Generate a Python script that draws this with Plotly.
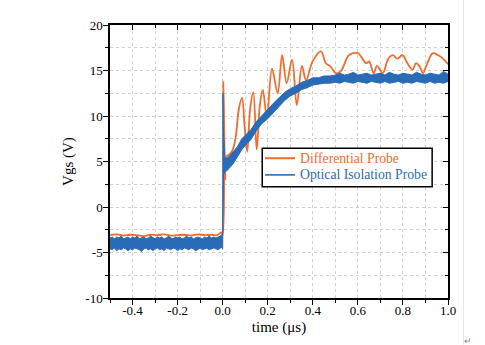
import plotly.graph_objects as go

# ---- Differential probe (orange) waveform, time in µs, Vgs in V ----
t_diff = [-0.5, -0.47, -0.44, -0.41, -0.38, -0.35, -0.32, -0.29, -0.26, -0.23,
          -0.20, -0.17, -0.14, -0.11, -0.08, -0.05, -0.025, -0.006, 0.0, 0.003,
          0.007, 0.011, 0.016, 0.025, 0.035, 0.045, 0.058, 0.072, 0.086, 0.097,
          0.109, 0.122, 0.136, 0.151, 0.165, 0.178, 0.196, 0.219, 0.244, 0.264,
          0.284, 0.308, 0.329, 0.352, 0.370, 0.399, 0.436, 0.458, 0.480, 0.502,
          0.524, 0.561, 0.600, 0.615, 0.636, 0.650, 0.670, 0.685, 0.710, 0.735,
          0.755, 0.775, 0.798, 0.820, 0.843, 0.858, 0.875, 0.889, 0.905, 0.933,
          0.955, 0.978, 1.0]
v_diff = [-3.1, -3.0, -3.15, -3.05, -3.1, -3.2, -3.05, -3.1, -3.0, -3.15,
          -3.1, -3.05, -3.15, -3.0, -3.1, -3.05, -3.1, -2.8, -3.0, 13.8,
          8.5, 3.0, 5.5, 5.7, 5.9, 6.3, 7.7, 10.8, 12.0, 9.0,
          6.1, 10.8, 12.6, 6.3, 11.2, 12.9, 9.9, 15.2, 12.5, 16.7,
          13.6, 16.2, 11.2, 15.5, 13.9, 16.0, 17.1, 15.8, 15.4, 14.7,
          14.9, 16.7, 16.9, 16.5, 15.8, 16.0, 14.7, 15.5, 14.7, 16.3,
          16.7, 16.3, 16.7, 15.8, 15.1, 15.8, 15.4, 14.7, 15.6, 16.9,
          16.7, 16.3, 15.7]

# ---- Optical isolation probe (blue): upper / lower edges of the noisy trace ----
t_opt = [-0.5, -0.49, -0.48, -0.47, -0.46, -0.45, -0.44, -0.43, -0.42, -0.41,
         -0.40, -0.39, -0.38, -0.37, -0.36, -0.35, -0.34, -0.33, -0.32, -0.31,
         -0.30, -0.29, -0.28, -0.27, -0.26, -0.25, -0.24, -0.23, -0.22, -0.21,
         -0.20, -0.19, -0.18, -0.17, -0.16, -0.15, -0.14, -0.13, -0.12, -0.11,
         -0.10, -0.09, -0.08, -0.07, -0.06, -0.05, -0.04, -0.03, -0.02, -0.01,
         -0.003, 0.0, 0.001, 0.004, 0.010, 0.020, 0.030, 0.045, 0.065, 0.085,
         0.105, 0.125, 0.150, 0.175, 0.200, 0.225, 0.250, 0.275, 0.300, 0.325,
         0.350, 0.375, 0.400, 0.425, 0.450, 0.475, 0.500, 0.520, 0.540, 0.560,
         0.580, 0.600, 0.620, 0.640, 0.660, 0.680, 0.700, 0.720, 0.740, 0.760,
         0.780, 0.800, 0.820, 0.840, 0.860, 0.880, 0.900, 0.920, 0.940, 0.960,
         0.980, 1.0]
v_opt_hi = [-3.4, -3.3, -3.5, -3.3, -3.4, -3.2, -3.5, -3.4, -3.3, -3.5,
            -3.3, -3.4, -3.2, -3.5, -3.4, -3.3, -3.5, -3.4, -3.2, -3.4,
            -3.5, -3.3, -3.4, -3.3, -3.5, -3.4, -3.2, -3.4, -3.5, -3.3,
            -3.4, -3.3, -3.5, -3.4, -3.2, -3.4, -3.3, -3.5, -3.4, -3.3,
            -3.4, -3.5, -3.3, -3.4, -3.2, -3.4, -3.3, -3.4, -3.3, -3.2,
            -3.0, -3.0, 12.5, 8.0, 5.3,
            5.4, 5.6, 6.0, 6.6, 7.5, 8.0, 8.5, 9.4, 10.1, 10.7,
            11.4, 12.0, 12.6, 13.0, 13.3, 13.7, 13.9, 14.2, 14.2, 14.4,
            14.4, 14.5, 14.7, 14.5, 14.6, 14.8, 14.5, 14.6, 14.7, 14.5,
            14.6, 14.7, 14.5, 14.8, 14.6, 14.5, 14.7, 14.6, 14.5, 14.8,
            14.6, 14.5, 14.7, 14.6, 14.5, 14.9, 14.6, 14.5, 14.7, 14.6,
            14.5, 14.6]
v_opt_lo = [-4.6, -4.7, -4.5, -4.8, -4.6, -4.7, -4.5, -4.6, -4.8, -4.6,
            -4.7, -4.5, -4.6, -4.7, -4.9, -4.6, -4.5, -4.7, -4.6, -4.8,
            -4.6, -4.5, -4.7, -4.6, -4.8, -4.5, -4.6, -4.7, -4.5, -4.6,
            -4.8, -4.6, -4.7, -4.5, -4.6, -4.7, -4.5, -4.6, -4.8, -4.6,
            -4.5, -4.7, -4.6, -4.5, -4.7, -4.6, -4.5, -4.6, -4.7, -4.5,
            -4.4, -4.6, 2.0, 3.5, 3.9,
            4.0, 4.3, 4.7, 5.5, 6.3, 6.9, 7.4, 8.4, 9.2, 9.7,
            10.4, 11.1, 11.7, 12.2, 12.5, 12.9, 13.1, 13.4, 13.5, 13.6,
            13.6, 13.7, 13.6, 13.8, 13.7, 13.6, 13.8, 13.7, 13.6, 13.8,
            13.7, 13.6, 13.8, 13.6, 13.7, 13.8, 13.6, 13.7, 13.6, 13.8,
            13.7, 13.6, 13.8, 13.6, 13.7, 13.6, 13.8, 13.7, 13.6, 13.7,
            13.6, 13.7]

# ---- tick labels and key entries ----
x_ticks = [-0.4, -0.2, 0.0, 0.2, 0.4, 0.6, 0.8, 1.0]
x_tick_text = ["-0.4", "-0.2", "0.0", "0.2", "0.4", "0.6", "0.8", "1.0"]
y_ticks = [-10, -5, 0, 5, 10, 15, 20]
y_tick_text = ["-10", "-5", "0", "5", "10", "15", "20"]
series_names = ["Differential Probe", "Optical Isolation Probe"]

ORANGE = "#F26C2C"
BLUE = "#2A6BB8"
SERIF = "Liberation Serif"

fig = go.Figure()

fig.add_trace(go.Scatter(
    x=t_diff, y=v_diff, mode="lines", name=series_names[0],
    line=dict(color=ORANGE, width=1.8, shape="spline", smoothing=1.0),
))

# blue noise band: lower edge, then upper edge filled down to it
fig.add_trace(go.Scatter(
    x=t_opt, y=v_opt_lo, mode="lines", name=series_names[1],
    line=dict(color=BLUE, width=1), hoverinfo="skip",
))
fig.add_trace(go.Scatter(
    x=t_opt, y=v_opt_hi, mode="lines", name=series_names[1],
    fill="tonexty", fillcolor=BLUE, line=dict(color=BLUE, width=1),
))
# carrier for the inward-ticked top/right axes
fig.add_trace(go.Scatter(x=[None], y=[None], xaxis="x2", yaxis="y2",
                         hoverinfo="skip"))

grid = dict(showgrid=True, gridcolor="#d0d0d0", gridwidth=1, griddash="dot")
tickfont = dict(family=SERIF, size=13, color="black")

fig.update_layout(
    width=485, height=345,
    margin=dict(l=110, r=37, t=25, b=47),
    paper_bgcolor="white", plot_bgcolor="white",
    font=dict(family=SERIF, color="black"),
    showlegend=False,
    xaxis=dict(
        range=[-0.5, 1.0], tickvals=x_ticks, ticktext=x_tick_text,
        ticks="outside", ticklen=5, tickwidth=1.3, tickcolor="black",
        tickfont=tickfont, ticklabelstandoff=-5,
        showline=True, linecolor="black", linewidth=1.5,
        mirror=True, zeroline=False, automargin=False, **grid,
        minor=dict(dtick=0.1, tick0=0, ticks="outside", ticklen=3, tickwidth=1.2,
                   tickcolor="black", showgrid=True, gridcolor="#d0d0d0",
                   griddash="dot"),
        title=dict(text="time (μs)", font=dict(family=SERIF, size=15), standoff=4),
    ),
    yaxis=dict(
        range=[-10, 20], tickvals=y_ticks, ticktext=y_tick_text,
        ticks="outside", ticklen=5, tickwidth=1.3, tickcolor="black",
        tickfont=tickfont, ticklabelstandoff=-2,
        showline=True, linecolor="black", linewidth=1.5,
        mirror=True, zeroline=False, automargin=False, **grid,
        minor=dict(dtick=2.5, tick0=0, ticks="outside", ticklen=3, tickwidth=1.2,
                   tickcolor="black", showgrid=True, gridcolor="#d0d0d0",
                   griddash="dot"),
        title=dict(text="Vgs (V)", font=dict(family=SERIF, size=15), standoff=8),
    ),
    xaxis2=dict(
        overlaying="x", side="top", anchor="y", range=[-0.5, 1.0],
        tickvals=x_ticks, ticks="inside", ticklen=5, tickwidth=1.3,
        tickcolor="black", showticklabels=False, showgrid=False, zeroline=False,
        minor=dict(dtick=0.1, tick0=0, ticks="inside", ticklen=3, tickwidth=1.2,
                   tickcolor="black", showgrid=False),
    ),
    yaxis2=dict(
        overlaying="y", side="right", anchor="x", range=[-10, 20],
        tickvals=y_ticks, ticks="inside", ticklen=5, tickwidth=1.3,
        tickcolor="black", showticklabels=False, showgrid=False, zeroline=False,
        minor=dict(dtick=2.5, tick0=0, ticks="inside", ticklen=3, tickwidth=1.2,
                   tickcolor="black", showgrid=False),
    ),
)

# boxed key in the lower right of the plot area
fig.add_shape(type="rect", xref="paper", yref="paper",
              x0=0.4504, x1=0.9531, y0=0.4077, y1=0.5484,
              fillcolor="white", line=dict(color="black", width=1.5), layer="above")
for name, color, yk, lw in [(series_names[0], ORANGE, 0.512, 2.0),
                            (series_names[1], BLUE, 0.451, 1.6)]:
    fig.add_shape(type="line", xref="paper", yref="paper",
                  x0=0.4585, x1=0.5475, y0=yk, y1=yk,
                  line=dict(color=color, width=lw), layer="above")
    fig.add_annotation(text=name, xref="paper", yref="paper", x=0.5564, y=yk,
                       xanchor="left", yanchor="middle", showarrow=False,
                       font=dict(family=SERIF, size=13.7, color=color))

# page edge line and paragraph mark at the right of the sheet
fig.add_shape(type="line", xref="paper", yref="paper",
              x0=1.046, x1=1.046, y0=-0.17, y1=1.1,
              line=dict(color="#e6e6e6", width=1))
fig.add_annotation(text="↵", xref="paper", yref="paper", x=1.058, y=-0.1575,
                   xanchor="center", yanchor="middle", showarrow=False,
                   font=dict(size=9, color="#888888"))

fig.write_html("out.html")
